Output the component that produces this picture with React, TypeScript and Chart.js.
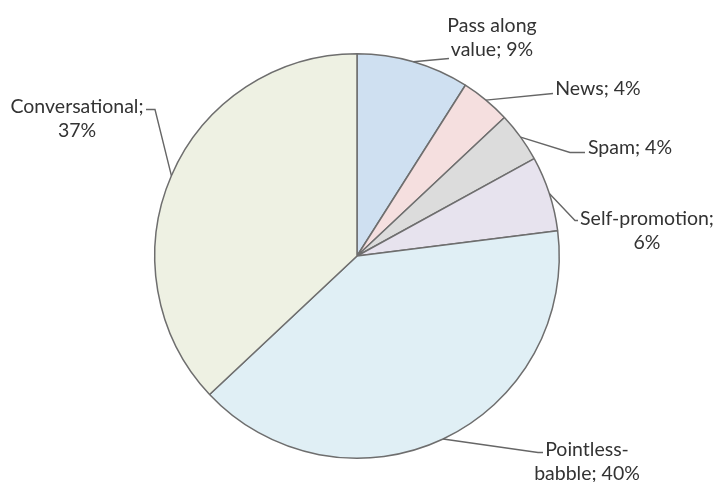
import React, { useEffect, useRef } from "react";
import { Chart, registerables } from "chart.js";

Chart.register(...registerables);

const categories = ["Pass along value", "News", "Spam", "Self-promotion", "Pointless-babble", "Conversational"];
const values = [9, 4, 4, 6, 40, 37];
const labelLines = [
  ["Pass along", "value; 9%"],
  ["News; 4%"],
  ["Spam; 4%"],
  ["Self-promotion;", "6%"],
  ["Pointless-", "babble; 40%"],
  ["Conversational;", "37%"],
];
const colors = ["#cfe0f1", "#f5dfdf", "#dcdcdc", "#e7e3ee", "#e0eff5", "#eef1e3"];

// leader-line bends and label centres, in px relative to the pie centre
const labelLayout = [
  { pts: [[92, -197.5]], text: [135, -218.5] },
  { pts: [[196, -162.5]], text: [241, -167.5] },
  { pts: [[213, -103.5], [228, -103.5]], text: [273, -108.5] },
  { pts: [[218, -35.5], [221, -35.5]], text: [290, -25.5] },
  { pts: [[181, 196.5], [186, 196.5]], text: [230, 205.5] },
  { pts: [[-202, -146.5], [-211, -146.5]], text: [-280, -137.5] },
];

const leaderPlugin = {
  id: "leaders",
  afterDatasetsDraw(chart: any) {
    const ctx = chart.ctx;
    const meta = chart.getDatasetMeta(0);
    ctx.save();
    meta.data.forEach((arc: any, i: number) => {
      const { x, y, startAngle, endAngle, outerRadius } = arc.getProps(["x", "y", "startAngle", "endAngle", "outerRadius"], true);
      const mid = (startAngle + endAngle) / 2;
      const sx = x + Math.cos(mid) * outerRadius;
      const sy = y + Math.sin(mid) * outerRadius;
      const lay = labelLayout[i];
      ctx.strokeStyle = "#666666";
      ctx.lineWidth = 1.4;
      ctx.beginPath();
      ctx.moveTo(sx, sy);
      lay.pts.forEach((p) => ctx.lineTo(x + p[0], y + p[1]));
      ctx.stroke();
      const lines = labelLines[i];
      const lh = 24.5;
      ctx.fillStyle = "#333333";
      ctx.font = "19.5px Lato";
      ctx.textAlign = "center";
      ctx.textBaseline = "middle";
      const cx = x + lay.text[0];
      const cy = y + lay.text[1];
      lines.forEach((t, j) => {
        ctx.fillText(t, cx, cy + (j - (lines.length - 1) / 2) * lh);
      });
    });
    ctx.restore();
  },
};

export default function App() {
  const ref = useRef<HTMLCanvasElement>(null);
  useEffect(() => {
    const chart = new Chart(ref.current!, {
      type: "pie",
      data: {
        labels: categories,
        datasets: [
          {
            data: values,
            backgroundColor: colors,
            borderColor: "#6e6e6e",
            borderWidth: 1.5,
          },
        ],
      },
      options: {
        animation: false,
        responsive: false,
        layout: { padding: { top: 52, bottom: 22, left: 154, right: 157 } },
        plugins: { legend: { display: false }, tooltip: { enabled: false } },
      },
      plugins: [leaderPlugin],
    });
    return () => chart.destroy();
  }, []);
  return (
    <div style={{ position: "fixed", left: 0, top: 0, width: 717, height: 482, background: "#fff" }}>
      <canvas ref={ref} width={717} height={482} />
    </div>
  );
}
